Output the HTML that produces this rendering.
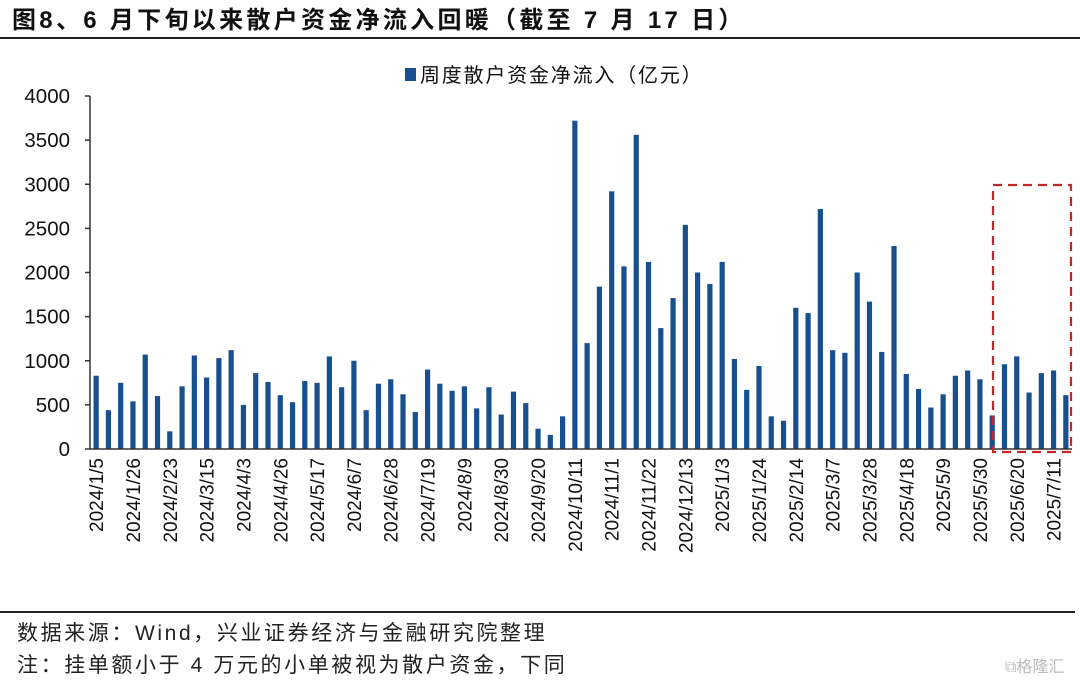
<!DOCTYPE html>
<html><head><meta charset="utf-8">
<style>
body{margin:0;background:#fff;}
#wrap{position:relative;width:1080px;height:680px;overflow:hidden;font-family:"Liberation Sans","Noto Sans CJK SC",sans-serif;}
.t{position:absolute;white-space:nowrap;}
</style></head><body>
<div id="wrap">
<div class="t" style="left:12px;top:0px;font-size:24px;letter-spacing:3.3px;font-weight:bold;color:#111;">图8、6 月下旬以来散户资金净流入回暖（截至 7 月 17 日）</div>
<div style="position:absolute;left:0;top:37px;width:1080px;height:2px;background:#222;"></div>
<svg id="chart" width="1080" height="610" style="position:absolute;left:0;top:0;"></svg>
<div style="position:absolute;left:0;top:611px;width:1075px;height:2px;background:#222;"></div>
<div class="t" style="left:17px;top:617px;font-size:21px;letter-spacing:2.6px;color:#222;">数据来源：Wind，兴业证券经济与金融研究院整理</div>
<div class="t" style="left:17px;top:649px;font-size:21px;letter-spacing:2.6px;color:#222;">注：挂单额小于 4 万元的小单被视为散户资金，下同</div>
<div class="t" style="left:1005px;top:653px;font-size:16px;color:#bbb;">⧉格隆汇</div>
</div>
<script>
const values=[830,440,750,540,1070,600,200,710,1060,810,1030,1120,500,860,760,610,530,770,750,1050,700,1000,440,740,790,620,420,900,740,660,710,460,700,390,650,520,230,160,370,3720,1200,1840,2920,2070,3560,2120,1370,1710,2540,2000,1870,2120,1020,670,940,370,320,1600,1540,2720,1120,1090,2000,1670,1100,2300,850,680,470,620,830,890,790,380,960,1050,640,860,890,610];
const tickLabels=["2024/1/5","2024/1/26","2024/2/23","2024/3/15","2024/4/3","2024/4/26","2024/5/17","2024/6/7","2024/6/28","2024/7/19","2024/8/9","2024/8/30","2024/9/20","2024/10/11","2024/11/1","2024/11/22","2024/12/13","2025/1/3","2025/1/24","2025/2/14","2025/3/7","2025/3/28","2025/4/18","2025/5/9","2025/5/30","2025/6/20","2025/7/11"];
const yTicks=[0,500,1000,1500,2000,2500,3000,3500,4000];
const seriesName="周度散户资金净流入（亿元）";
const svg=document.getElementById('chart');
const NS='http://www.w3.org/2000/svg';
const x0=90,x1=1072,yTop=96,yBot=449,yMax=4000;
const step=(x1-x0)/values.length;
const xs=i=>x0+step*(i+0.5);
const ys=v=>yBot-(v/yMax)*(yBot-yTop);
function mk(tag,attrs){const e=document.createElementNS(NS,tag);for(const k in attrs)e.setAttribute(k,attrs[k]);svg.appendChild(e);return e;}
yTicks.forEach(v=>{
  const l=mk('line',{x1:x0-5,x2:x0,y1:ys(v),y2:ys(v),stroke:'#333','stroke-width':1.5});
  
  
  const t=mk('text',{x:70,y:ys(v)+7,'text-anchor':'end','font-size':20.5,fill:'#111','font-family':'Liberation Sans, sans-serif'});
  t.textContent=v;
  
  
});
values.forEach((v,i)=>{
  const r=mk('rect',{x:xs(i)-2.6,y:ys(v),width:5.2,height:yBot-ys(v),fill:'#174f8f'});
  
  
});
const ya=mk('line',{x1:x0,x2:x0,y1:yTop,y2:yBot,stroke:'#333','stroke-width':1.5});


const xa=mk('line',{x1:x0,x2:x1,y1:yBot,y2:yBot,stroke:'#333','stroke-width':1.5});


tickLabels.forEach((s,k)=>{
  const cx=xs(k*3);
  const t=mk('text',{x:0,y:0,'text-anchor':'end','font-size':19,fill:'#111','font-family':'Liberation Sans, sans-serif',transform:`translate(${cx+7},458) rotate(-90)`});
  t.textContent=s;
  
  
});
const lg=mk('rect',{x:405,y:68,width:11,height:13,fill:'#174f8f'});


const lt=mk('text',{x:420,y:82,'font-size':20,'letter-spacing':1.8,fill:'#111','font-family':'Liberation Sans, Noto Sans CJK SC, sans-serif'});
lt.textContent=seriesName;


const box=mk('rect',{x:993,y:185,width:78,height:267,fill:'none',stroke:'#c0282a','stroke-width':2.2,'stroke-dasharray':'9,6'});


</script>
</body></html>
